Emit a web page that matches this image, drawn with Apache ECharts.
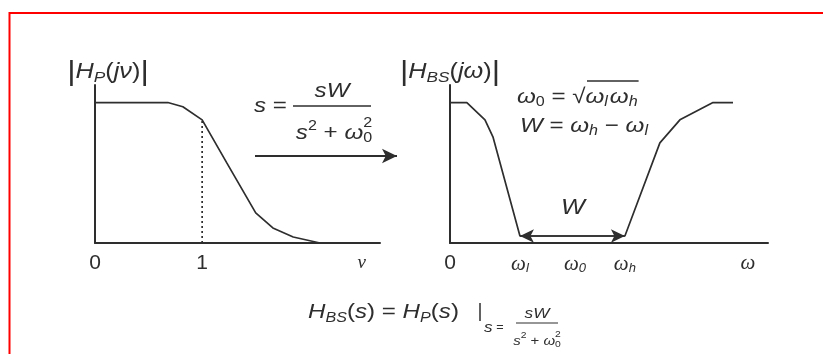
<!DOCTYPE html>
<html>
<head>
<meta charset="utf-8">
<script src="https://cdn.jsdelivr.net/npm/echarts@6/dist/echarts.min.js"></script>
<style>
  html, body { margin: 0; padding: 0; background: #fff; }
  #chart { width: 823px; height: 354px; }
</style>
</head>
<body>
<div id="chart"></div>
<script>
// Low-pass prototype |H_P(jν)|
const lpNu  = [0, 0.68, 0.82, 1.0, 1.23, 1.50, 1.66, 1.85, 2.10];
const lpMag = [1, 1, 0.97, 0.877, 0.57, 0.214, 0.107, 0.043, 0];
const cutoffNu = 1.0;
const cutoffMag = 0.877;
const lpTickValues = [0, 1, 2.49];
const lpTickLabels = ['0', '1', '{g|ν}'];

// Band-stop result |H_BS(jω)|
const bsW   = [0, 0.53, 1.10, 1.35, 2.2, 5.5, 6.6, 7.23, 8.27, 8.9];
const bsMag = [1, 1, 0.877, 0.756, 0.05, 0.05, 0.713, 0.877, 1, 1];
const bandEdges = [2.2, 5.5];          // ω_l, ω_h
const bandLevel = 0.05;
const bsTickValues = [0, 2.2, 3.93, 5.5, 9.37];
const bsTickLabels = ['0', '{w|ω}{s|l}', '{w|ω}{s|0}', '{w|ω}{s|h}', '{g|ω}'];

const INK = '#2e2e2e';
const SANS = '"Liberation Sans", Arial, sans-serif';
const SERIF = '"Liberation Serif", "Times New Roman", serif';
const SX = 1.15;   // formulas are set slightly wide

// --- tiny formula layout helper (measures glyph runs, places them left to right)
const mctx = document.createElement('canvas').getContext('2d');
function fontOf(p) { return (p.it ? 'italic ' : '') + p.size + 'px ' + (p.fam || SANS); }
function runWidth(p, t) { mctx.font = fontOf(p); return mctx.measureText(t).width * SX; }
function formula(x0, y, pieces, anchor) {
  const widths = pieces.map(p => (p.stack
    ? Math.max(runWidth(p, p.stack[0]), runWidth(p, p.stack[1]))
    : runWidth(p, p.t)) + (p.gap || 0));
  const total = widths.reduce((a, b) => a + b, 0);
  let x = anchor === 'center' ? x0 - total / 2 : x0;
  const left = x;
  const els = [];
  pieces.forEach((p, i) => {
    const base = { fontSize: p.size, fontFamily: p.fam || SANS, fontStyle: p.it ? 'italic' : 'normal',
                   fill: INK, align: 'left', verticalAlign: 'middle' };
    if (p.stack) {
      els.push({ type: 'text', x: x, y: y + p.up, scaleX: SX, style: Object.assign({ text: p.stack[0] }, base) });
      els.push({ type: 'text', x: x, y: y + p.down, scaleX: SX, style: Object.assign({ text: p.stack[1] }, base) });
    } else {
      els.push({ type: 'text', x: x, y: y + (p.dy || 0), scaleX: SX, style: Object.assign({ text: p.t }, base) });
    }
    x += widths[i];
  });
  return { els: els, left: left, right: x };
}
function hline(x1, x2, y, w) {
  return { type: 'line', shape: { x1: x1, y1: y, x2: x2, y2: y }, style: { stroke: INK, lineWidth: w || 1.4 } };
}

const M = 21, S = 14;
const graphics = [];

// axis titles
graphics.push(...formula(108, 72, [
  { t: '|', size: 28 }, { t: 'H', size: 22, it: 1 }, { t: 'P', size: 15, it: 1, dy: 6 },
  { t: '(', size: 22 }, { t: 'jν', size: 22, it: 1 }, { t: ')', size: 22 }, { t: '|', size: 28 }
], 'center').els);
graphics.push(...formula(450, 72, [
  { t: '|', size: 28 }, { t: 'H', size: 22, it: 1 }, { t: 'BS', size: 15, it: 1, dy: 6 },
  { t: '(', size: 22 }, { t: 'jω', size: 22, it: 1 }, { t: ')', size: 22 }, { t: '|', size: 28 }
], 'center').els);

// transformation s = sW / (s^2 + ω0^2)
graphics.push(...formula(254, 106, [{ t: 's', size: M, it: 1 }, { t: ' = ', size: M }], 'left').els);
graphics.push(hline(293, 371, 106, 1.6));
graphics.push(...formula(332, 91, [{ t: 'sW', size: M, it: 1 }], 'center').els);
graphics.push(...formula(334, 133, [
  { t: 's', size: M, it: 1 }, { t: '2', size: S, dy: -7 }, { t: ' + ', size: M },
  { t: 'ω', size: M, it: 1 }, { stack: ['2', '0'], size: S, up: -10, down: 5 }
], 'center').els);

// band definitions
const f1 = formula(517, 97, [
  { t: 'ω', size: M, it: 1 }, { t: '0', size: S, dy: 5 }, { t: ' = ', size: M },
  { t: '√', size: M }, { t: 'ω', size: M, it: 1 }, { t: 'l', size: S, it: 1, dy: 5 },
  { t: ' ', size: 6 }, { t: 'ω', size: M, it: 1 }, { t: 'h', size: S, it: 1, dy: 5 }
], 'left');
graphics.push(...f1.els);
graphics.push(hline(f1.left + 70, f1.right + 1, 81, 1.3));
graphics.push(...formula(520, 126, [
  { t: 'W', size: M, it: 1 }, { t: ' = ', size: M }, { t: 'ω', size: M, it: 1 },
  { t: 'h', size: S, it: 1, dy: 5 }, { t: ' − ', size: M }, { t: 'ω', size: M, it: 1 },
  { t: 'l', size: S, it: 1, dy: 5 }
], 'left').els);

// bandwidth label
graphics.push(...formula(573, 208, [{ t: 'W', size: 22, it: 1 }], 'center').els);

// bottom relation H_BS(s) = H_P(s) | s = sW/(s^2+ω0^2)
graphics.push(...formula(308, 312, [
  { t: 'H', size: M, it: 1 }, { t: 'BS', size: S, it: 1, dy: 6 }, { t: '(', size: M },
  { t: 's', size: M, it: 1 }, { t: ') = ', size: M }, { t: 'H', size: M, it: 1 },
  { t: 'P', size: S, it: 1, dy: 6 }, { t: '(', size: M }, { t: 's', size: M, it: 1 }, { t: ')', size: M }
], 'left').els);
graphics.push({ type: 'line', shape: { x1: 480, y1: 303, x2: 480, y2: 321 }, style: { stroke: INK, lineWidth: 1.5 } });
graphics.push(...formula(484, 328, [{ t: 's', size: 15, it: 1 }, { t: ' = ', size: 11 }], 'left').els);
graphics.push(hline(516, 558, 323, 1.1));
graphics.push(...formula(537, 314, [{ t: 'sW', size: 15, it: 1 }], 'center').els);
graphics.push(...formula(537, 341, [
  { t: 's', size: 13, it: 1 }, { t: '2', size: 9, dy: -5 }, { t: ' + ', size: 13 },
  { t: 'ω', size: 13, it: 1 }, { stack: ['2', '0'], size: 9, up: -6, down: 4 }
], 'center').els);

// frame
graphics.push({ type: 'rect', shape: { x: 9.5, y: 13, width: 900, height: 400 },
  style: { fill: 'none', stroke: '#ff0000', lineWidth: 2 }, z: 100 });

const axisLineStyle = { lineStyle: { color: INK, width: 2 } };

const option = {
  animation: false,
  backgroundColor: '#fff',
  grid: [
    { left: 95, top: 85, width: 285, height: 158 },
    { left: 450, top: 85, width: 318, height: 158 }
  ],
  xAxis: [
    {
      gridIndex: 0, type: 'value', min: 0, max: 2.66,
      axisLine: axisLineStyle, axisTick: { show: false }, splitLine: { show: false },
      axisLabel: {
        customValues: lpTickValues, margin: 10, color: INK, fontSize: 21, fontFamily: SANS,
        formatter: v => lpTickLabels[lpTickValues.indexOf(v)],
        rich: { g: { fontFamily: SERIF, fontStyle: 'italic', fontSize: 19, color: INK } }
      }
    },
    {
      gridIndex: 1, type: 'value', min: 0, max: 10,
      axisLine: axisLineStyle, axisTick: { show: false }, splitLine: { show: false },
      axisLabel: {
        customValues: bsTickValues, margin: 10, color: INK, fontSize: 21, fontFamily: SANS,
        formatter: v => bsTickLabels[bsTickValues.indexOf(v)],
        rich: {
          w: { fontFamily: SERIF, fontStyle: 'italic', fontSize: 21, color: INK, lineHeight: 22, verticalAlign: 'middle' },
          s: { fontFamily: SANS, fontStyle: 'italic', fontSize: 13, color: INK, lineHeight: 12, verticalAlign: 'bottom' },
          g: { fontFamily: SERIF, fontStyle: 'italic', fontSize: 21, color: INK }
        }
      }
    }
  ],
  yAxis: [
    { gridIndex: 0, type: 'value', min: 0, max: 1.125, axisLine: { show: true, lineStyle: { color: INK, width: 2 } },
      axisTick: { show: false }, axisLabel: { show: false }, splitLine: { show: false } },
    { gridIndex: 1, type: 'value', min: 0, max: 1.125, axisLine: { show: true, lineStyle: { color: INK, width: 2 } },
      axisTick: { show: false }, axisLabel: { show: false }, splitLine: { show: false } }
  ],
  series: [
    {
      type: 'line', xAxisIndex: 0, yAxisIndex: 0, showSymbol: false, symbol: 'none',
      data: lpNu.map((x, i) => [x, lpMag[i]]),
      lineStyle: { color: INK, width: 1.7 },
      markLine: {
        silent: true, symbol: ['none', 'arrow'], symbolSize: [11, 15], label: { show: false },
        lineStyle: { color: INK, width: 2, type: 'solid' },
        data: [[{ x: 255, y: 156 }, { x: 397, y: 156 }]]
      }
    },
    {
      type: 'line', xAxisIndex: 0, yAxisIndex: 0, showSymbol: false, symbol: 'none',
      data: [[cutoffNu, 0], [cutoffNu, cutoffMag]],
      lineStyle: { color: INK, width: 1.7, type: [2, 3] }
    },
    {
      type: 'line', xAxisIndex: 1, yAxisIndex: 1, showSymbol: false, symbol: 'none',
      data: bsW.map((x, i) => [x, bsMag[i]]),
      lineStyle: { color: INK, width: 1.7 },
      markLine: {
        silent: true, symbol: ['arrow', 'arrow'], symbolSize: [10, 14], label: { show: false },
        lineStyle: { color: INK, width: 1.7, type: 'solid' },
        data: [[{ coord: [bandEdges[0], bandLevel] }, { coord: [bandEdges[1], bandLevel] }]]
      }
    }
  ],
  graphic: graphics
};

const chart = echarts.init(document.getElementById('chart'), null, { renderer: 'canvas' });
chart.setOption(option);
</script>
</body>
</html>
